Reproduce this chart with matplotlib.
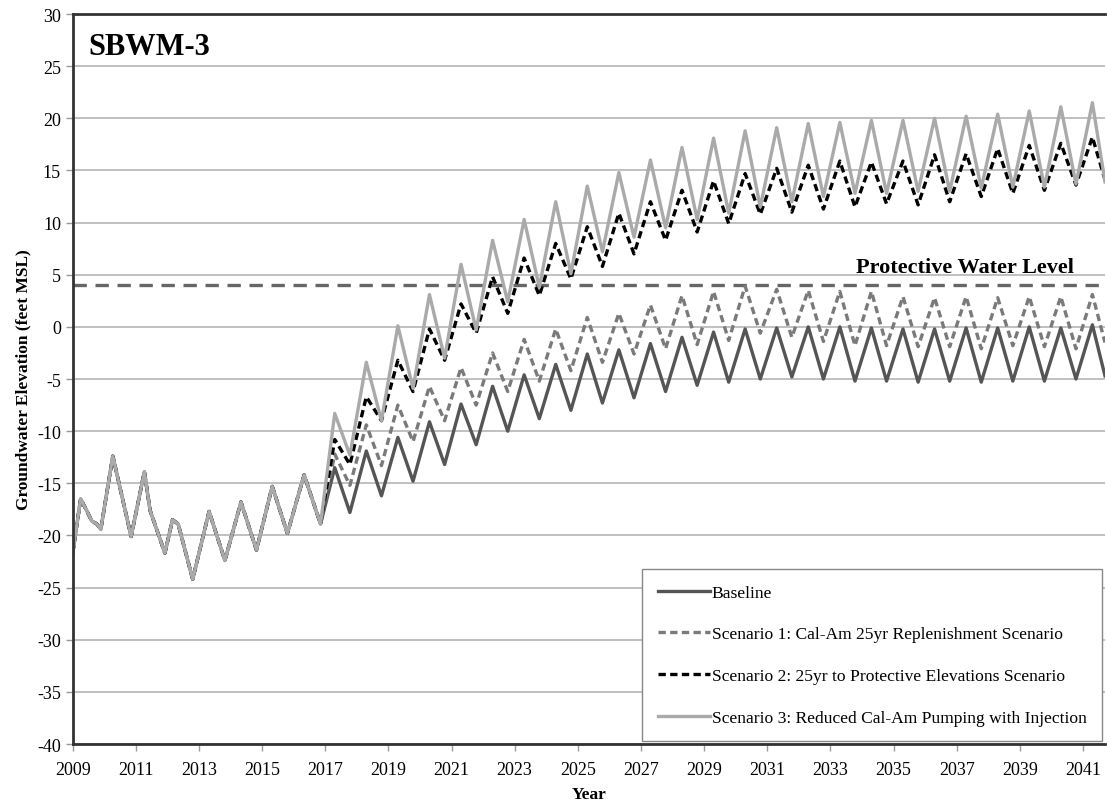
import numpy as np
import matplotlib.pyplot as plt

# observed record, shared by every scenario (decimal year, feet MSL)
hist_years = [2009.0, 2009.25, 2009.44, 2009.60, 2009.76, 2009.89, 2010.27, 2010.85,
              2011.27, 2011.45, 2011.92, 2012.16, 2012.34, 2012.80, 2013.32, 2013.82,
              2014.33, 2014.82, 2015.32, 2015.80, 2016.33, 2016.85]
hist_level = [-21.7, -16.5, -17.6, -18.6, -18.9, -19.4, -12.4, -20.1,
              -13.9, -17.6, -21.7, -18.5, -18.9, -24.2, -17.7, -22.4,
              -16.8, -21.4, -15.3, -19.8, -14.2, -18.9]

# projected seasonal highs and lows, one pair per year 2017-2041
proj_years = list(range(2017, 2042))
end_year = 2041.7

baseline_high = [-13.5, -11.9, -10.6, -9.1, -7.4, -5.7, -4.6, -3.6, -2.6, -2.2, -1.6, -1.0, -0.5,
                 -0.2, -0.1, 0.0, 0.0, -0.1, -0.2, -0.2, -0.1, -0.1, 0.0, -0.1, 0.2]
baseline_low = [-17.8, -16.2, -14.8, -13.2, -11.3, -10.0, -8.8, -8.0, -7.3, -6.8, -6.2, -5.6, -5.3,
                -5.0, -4.8, -5.0, -5.2, -5.2, -5.3, -5.2, -5.3, -5.2, -5.2, -5.0, -4.7]

scen1_high = [-12.2, -9.4, -7.5, -5.7, -3.9, -2.5, -1.2, -0.2, 0.9, 1.3, 2.1, 3.0, 3.4,
              3.9, 3.6, 3.5, 3.4, 3.4, 2.9, 2.8, 2.9, 2.8, 2.9, 2.9, 3.1]
scen1_low = [-15.2, -13.3, -11.0, -9.0, -7.5, -6.2, -5.2, -4.2, -3.4, -2.6, -2.1, -1.7, -1.3,
             -0.6, -1.0, -1.4, -1.8, -1.8, -1.9, -1.9, -2.1, -1.8, -1.9, -2.1, -1.5]

scen2_high = [-10.8, -6.7, -3.2, -0.2, 2.2, 4.8, 6.6, 8.0, 9.6, 10.9, 12.0, 13.1, 14.0,
              14.7, 15.2, 15.5, 15.9, 15.8, 15.9, 16.5, 16.6, 17.1, 17.4, 17.6, 18.2]
scen2_low = [-13.2, -9.0, -6.2, -3.2, -0.6, 1.3, 3.0, 4.6, 5.8, 7.0, 8.3, 9.1, 9.9,
             10.8, 11.0, 11.3, 11.5, 11.8, 11.7, 12.0, 12.5, 12.8, 13.1, 13.6, 14.1]

scen3_high = [-8.3, -3.4, 0.1, 3.1, 6.0, 8.3, 10.3, 12.0, 13.5, 14.8, 16.0, 17.2, 18.1,
              18.8, 19.1, 19.5, 19.6, 19.8, 19.8, 20.0, 20.2, 20.4, 20.7, 21.1, 21.5]
scen3_low = [-12.3, -9.0, -5.9, -3.0, -0.3, 2.4, 3.8, 5.1, 7.2, 8.6, 9.5, 10.3, 10.9,
             11.5, 12.0, 12.5, 12.8, 12.8, 13.0, 13.0, 13.3, 13.4, 13.4, 13.7, 13.9]

protective_level = 4.0

labels = ["Baseline",
          "Scenario 1: Cal-Am 25yr Replenishment Scenario",
          "Scenario 2: 25yr to Protective Elevations Scenario",
          "Scenario 3: Reduced Cal-Am Pumping with Injection"]


def build_series(highs, lows):
    # highs peak in spring, lows bottom out in autumn
    t = list(hist_years)
    v = list(hist_level)
    for i, yr in enumerate(proj_years):
        t.append(yr + 0.30)
        v.append(highs[i])
        t.append(yr + 0.78 if i < len(proj_years) - 1 else end_year)
        v.append(lows[i])
    return np.array(t), np.array(v)


plt.rcParams['font.family'] = 'Liberation Serif'
plt.rcParams['axes.unicode_minus'] = False

fig = plt.figure(figsize=(11.07, 8.12), dpi=100)
ax = fig.add_axes([0.0657, 0.0825, 0.9325, 0.899])

styles = [
    dict(color='#555555', lw=2.4, ls='-'),
    dict(color='#7a7a7a', lw=2.4, ls=(0, (2.2, 1.3))),
    dict(color='#000000', lw=2.4, ls=(0, (2.2, 1.3))),
    dict(color='#aaaaaa', lw=2.4, ls='-'),
]
series = [(baseline_high, baseline_low), (scen1_high, scen1_low),
          (scen2_high, scen2_low), (scen3_high, scen3_low)]

for (hi, lo), st, lab in zip(series, styles, labels):
    t, v = build_series(hi, lo)
    ax.plot(t, v, label=lab, solid_joinstyle='round', dash_joinstyle='round', **st)

ax.axhline(protective_level, color='#666666', lw=2.4, ls=(0, (4, 2.6)), zorder=1)
ax.text(2040.7, 5.3, "Protective Water Level", ha='right', va='baseline',
        fontsize=16, fontweight='bold')
ax.text(2009.5, 26.2, "SBWM-3", ha='left', va='baseline', fontsize=22, fontweight='bold')

ax.set_xlim(2009, end_year)
ax.set_ylim(-40, 30)
ax.set_xticks(np.arange(2009, 2042, 2))
ax.set_yticks(np.arange(-40, 31, 5))
ax.yaxis.grid(True, color='#bbbbbb', lw=1.3)
ax.set_axisbelow(True)
ax.tick_params(axis='both', labelsize=13, color='#999999', length=5, width=1)
ax.tick_params(axis='x', pad=7)

for side in ['left', 'bottom', 'top']:
    ax.spines[side].set_color('#333333')
    ax.spines[side].set_linewidth(2)
ax.spines['right'].set_visible(False)

ax.set_xlabel("Year", fontsize=12.5, fontweight='bold', labelpad=6)
ax.set_ylabel("Groundwater Elevation (feet MSL)", fontsize=12.5, fontweight='bold', labelpad=4)

leg = ax.legend(loc='lower right', fontsize=12.6, handlelength=3.0, handletextpad=0.1,
                labelspacing=1.45, borderpad=0.9, fancybox=False, framealpha=1,
                edgecolor='#888888', borderaxespad=0.15)
leg.get_frame().set_linewidth(1.0)

fig.savefig("out.png", dpi=100)
